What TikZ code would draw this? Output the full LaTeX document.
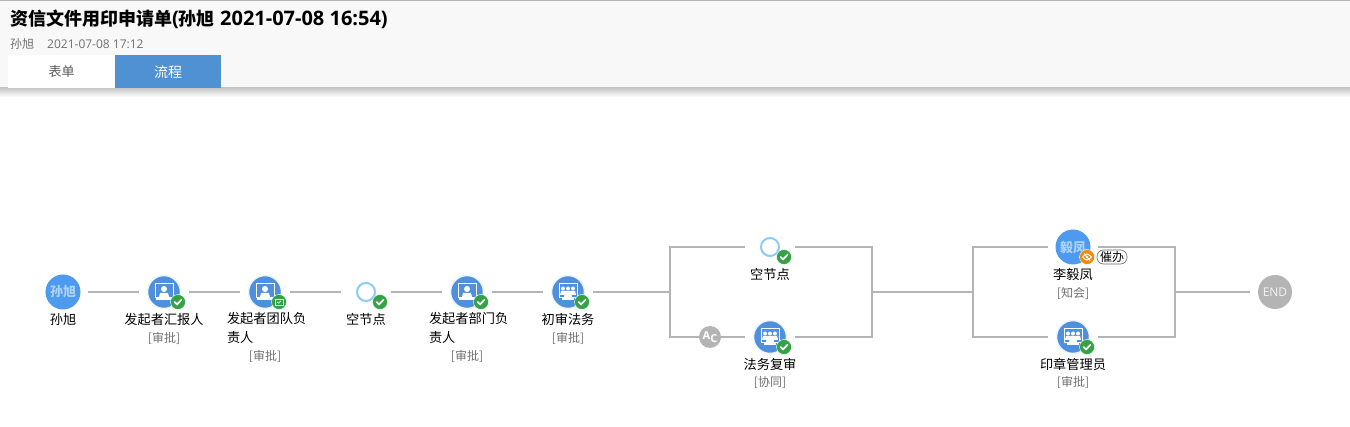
\documentclass[tikz,border=0pt]{standalone}
\usepackage{fontspec}
\setmainfont{Open Sans}
\newfontfamily\cjk{Noto Sans CJK SC}
\usetikzlibrary{shapes.geometric, arrows}
\definecolor{linegray}{HTML}{B4B4B4}
\definecolor{headbg}{HTML}{F8F8F8}
\definecolor{tabblue}{HTML}{5091D3}
\definecolor{iconblue}{HTML}{4F90DD}
\definecolor{userblue}{HTML}{4E9AEE}
\definecolor{ringblue}{HTML}{8CCBF6}
\definecolor{okgreen}{HTML}{35A344}
\definecolor{eyeorange}{HTML}{F08A0C}
\definecolor{subgray}{HTML}{707070}
\tikzstyle{hub} = [circle, minimum size=50pt, inner sep=0pt, outer sep=0pt]
\tikzstyle{flow} = [line width=2pt, draw=linegray]
\tikzstyle{disc} = [circle, minimum size=33pt, inner sep=0pt, fill=iconblue, draw=iconblue!10, line width=1.5pt]
\tikzstyle{user} = [circle, minimum size=35pt, inner sep=0pt, fill=userblue, text=white!55!userblue, font=\cjk\bfseries\fontsize{13}{13}\selectfont]
\tikzstyle{ring} = [circle, minimum size=18pt, inner sep=0pt, draw=ringblue, line width=2pt, fill=white]
\tikzstyle{okbadge} = [circle, minimum size=15pt, inner sep=0pt, fill=okgreen, draw=white, line width=0.4pt, path picture={\draw [white, line width=1.7pt, line cap=round] (-3.4pt,0pt) -- (-0.9pt,-2.4pt) -- (3.6pt,2.4pt);}]
\tikzstyle{caption} = [inner sep=0pt, font=\cjk\fontsize{13.2}{19}\selectfont, text=black]
\tikzstyle{role} = [inner sep=0pt, font=\cjk\fontsize{12}{14}\selectfont, text=subgray]
\newcommand{\singleicon}[1]{
  \begin{scope}[shift={(#1)}]
    \draw [white, line width=1pt] (-9,-8.5) rectangle (9,5.5);
    \fill [white] (0,-3) circle (3);
    \fill [white] (-5,5) -- (-4,1) -- (4,1) -- (5,5) -- cycle;
    \fill [white] (-8,6.5) rectangle (8,8.5);
  \end{scope}
}
\newcommand{\groupicon}[1]{
  \begin{scope}[shift={(#1)}]
    \draw [white, line width=1pt] (-9,-8.5) rectangle (9,5.5);
    \fill [white] (-5,-3.5) circle (2);
    \fill [white] (0,-3.5) circle (2);
    \fill [white] (5,-3.5) circle (2);
    \fill [white] (-8,3) -- (-7,-1) -- (7,-1) -- (8,3) -- cycle;
    \fill [white] (-4,5) -- (-3,1) -- (3,1) -- (4,5) -- cycle;
    \fill [white] (-6,6.5) rectangle (6,8.5);
  \end{scope}
}

\begin{document}
\begin{tikzpicture}[x=1pt, y=-1pt, node distance=101pt]
\useasboundingbox (0,0) rectangle (1350,427);

%%% header
\fill [headbg] (0,0) rectangle (1350,88);
\fill [linegray] (0,0) rectangle (1350,1.5);
\shade [top color=black!22, bottom color=white] (0,88) rectangle (1350,97);
\node (title) [anchor=west, inner sep=0pt, font=\bfseries\fontsize{20}{20}\selectfont] at (10,19) {{\cjk\bfseries\fontsize{18}{18}\selectfont 资信文件用印申请单}({\cjk\bfseries\fontsize{18}{18}\selectfont 孙旭}\ 2021-07-08 16:54)};
\node (who) [anchor=west, inner sep=0pt, text=subgray, font=\cjk\fontsize{12}{12}\selectfont] at (10,44) {孙旭};
\node (when) [anchor=west, inner sep=0pt, text=subgray, font=\fontsize{12}{12}\selectfont] at (47,44) {2021-07-08 17:12};
\node (formtab) [anchor=north west, minimum width=107pt, minimum height=33pt, inner sep=0pt, fill=white, text=black!65, font=\cjk\fontsize{13}{13}\selectfont] at (8,55) {表单};
\node (flowtab) [anchor=north west, minimum width=106pt, minimum height=33pt, inner sep=0pt, fill=tabblue, text=white, font=\cjk\fontsize{14}{14}\selectfont] at (115,55) {流程};

%%% first row
\node (sunxu) [hub] at (63,292) {};
\node (report) [hub, right of=sunxu] {};
\node (team) [hub, right of=report] {};
\node (blank) [hub, right of=team] {};
\node (dept) [hub, right of=blank] {};
\node (legal) [hub, right of=dept] {};

%%% branches
\node (blanktop) [hub] at (770,247) {};
\node (review) [hub] at (770,337) {};
\node (acbtn) [circle, minimum size=22pt, inner sep=0pt, fill=linegray, text=white, font=\bfseries\fontsize{11}{11}\selectfont] at (710,337) {\raisebox{1.5pt}{A}\raisebox{-1pt}{C}};
\node (liyf) [hub] at (1073,247) {};
\node (seal) [hub] at (1073,337) {};
\node (endnode) [circle, minimum size=34pt, inner sep=0pt, fill=linegray, text=white!85!linegray, font=\fontsize{12}{12}\selectfont] at (1275,292) {END};
\node (endhub) [hub] at (1275,292) {};

\coordinate (splitA) at (670,292);
\coordinate (splitAtop) at (670,247);
\coordinate (splitAbot) at (670,337);
\coordinate (joinA) at (872,292);
\coordinate (joinAtop) at (872,247);
\coordinate (joinAbot) at (872,337);
\coordinate (splitB) at (973,292);
\coordinate (splitBtop) at (973,247);
\coordinate (splitBbot) at (973,337);
\coordinate (joinB) at (1175,292);
\coordinate (joinBtop) at (1175,247);
\coordinate (joinBbot) at (1175,337);

\draw [flow] (sunxu) -- (report);
\draw [flow] (report) -- (team);
\draw [flow] (team) -- (blank);
\draw [flow] (blank) -- (dept);
\draw [flow] (dept) -- (legal);
\draw [flow] (legal) -- (splitA);
\draw [flow] (blanktop) -- (splitAtop) -- (splitAbot) -- (acbtn);
\draw [flow] (acbtn) -- (review);
\draw [flow] (blanktop) -- (joinAtop) -- (joinAbot) -- (review);
\draw [flow] (joinA) -- (splitB);
\draw [flow] (liyf) -- (splitBtop) -- (splitBbot) -- (seal);
\draw [flow] (liyf) -- (joinBtop) -- (joinBbot) -- (seal);
\draw [flow] (joinB) -- (endhub);

%%% discs and icons
\node (sunxudisc) [user] at (sunxu) {孙旭};
\node (reportdisc) [disc] at (report) {};
\singleicon{report}
\node (teamdisc) [disc] at (team) {};
\singleicon{team}
\node (blankring) [ring] at (blank) {};
\node (deptdisc) [disc] at (dept) {};
\singleicon{dept}
\node (legaldisc) [disc] at (legal) {};
\groupicon{legal}
\node (blanktopring) [ring] at (blanktop) {};
\node (reviewdisc) [disc] at (review) {};
\groupicon{review}
\node (liyfdisc) [user] at (liyf) {毅凤};
\node (sealdisc) [disc] at (seal) {};
\groupicon{seal}

%%% badges
\node (reportok) [okbadge, xshift=14pt, yshift=-10pt] at (report) {};
\node (teamok) [circle, minimum size=15pt, inner sep=0pt, fill=okgreen, draw=white, line width=0.4pt, xshift=14pt, yshift=-10pt] at (team) {};
\draw [white, line width=0.7pt] ([xshift=-4pt,yshift=3pt]teamok.center) rectangle ([xshift=4pt,yshift=-3pt]teamok.center);
\draw [white, line width=0.7pt] ([xshift=-2pt,yshift=0pt]teamok.center) -- ([xshift=-0.5pt,yshift=-1.2pt]teamok.center) -- ([xshift=2pt,yshift=1.2pt]teamok.center);
\node (blankok) [okbadge, xshift=14pt, yshift=-10pt] at (blank) {};
\node (deptok) [okbadge, xshift=14pt, yshift=-10pt] at (dept) {};
\node (legalok) [okbadge, xshift=14pt, yshift=-10pt] at (legal) {};
\node (blanktopok) [okbadge, xshift=14pt, yshift=-10pt] at (blanktop) {};
\node (reviewok) [okbadge, xshift=14pt, yshift=-10pt] at (review) {};
\node (sealok) [okbadge, xshift=14pt, yshift=-10pt] at (seal) {};
\node (liyfeye) [circle, minimum size=15pt, inner sep=0pt, fill=eyeorange, draw=white, line width=0.4pt, xshift=14pt, yshift=-10pt] at (liyf) {};
\draw [white, line width=1pt] ([xshift=-4.5pt]liyfeye.center) .. controls ([yshift=4pt]liyfeye.center) .. ([xshift=4.5pt]liyfeye.center) .. controls ([yshift=-4pt]liyfeye.center) .. ([xshift=-4.5pt]liyfeye.center);
\fill [white] (liyfeye.center) circle (1.4);
\draw [white, line width=0.8pt] ([xshift=-3pt,yshift=3.5pt]liyfeye.center) -- ([xshift=3pt,yshift=-3.5pt]liyfeye.center);
\node (urge) [rounded corners=6.5pt, draw=black!60, line width=0.6pt, fill=white, minimum width=30pt, minimum height=14pt, inner sep=0pt, font=\cjk\fontsize{12}{12}\selectfont] at (1112,257) {催办};

%%% captions
\node (sunxulab) [caption, below of=sunxu, node distance=27.3pt] {孙旭};
\node (reportlab) [caption, below of=report, node distance=27.3pt] {发起者汇报人};
\node (reportrole) [role, below of=report, node distance=46.3pt] {[审批]};
\node (teamlab) [caption, below of=team, node distance=36.3pt, xshift=1.5pt, text width=79pt, align=left] {发起者团队负\\责人};
\node (teamrole) [role, below of=team, node distance=64.3pt] {[审批]};
\node (blanklab) [caption, below of=blank, node distance=27.3pt] {空节点};
\node (deptlab) [caption, below of=dept, node distance=36.3pt, xshift=1.5pt, text width=79pt, align=left] {发起者部门负\\责人};
\node (deptrole) [role, below of=dept, node distance=64.3pt] {[审批]};
\node (legallab) [caption, below of=legal, node distance=27.3pt] {初审法务};
\node (legalrole) [role, below of=legal, node distance=46.3pt] {[审批]};
\node (blanktoplab) [caption, below of=blanktop, node distance=27.3pt] {空节点};
\node (reviewlab) [caption, below of=review, node distance=27.3pt] {法务复审};
\node (reviewrole) [role, below of=review, node distance=45.3pt] {[协同]};
\node (liyflab) [caption, below of=liyf, node distance=27.3pt] {李毅凤};
\node (liyfrole) [role, below of=liyf, node distance=46.3pt] {[知会]};
\node (seallab) [caption, below of=seal, node distance=27.3pt] {印章管理员};
\node (sealrole) [role, below of=seal, node distance=45.3pt] {[审批]};

\end{tikzpicture}
\end{document}
